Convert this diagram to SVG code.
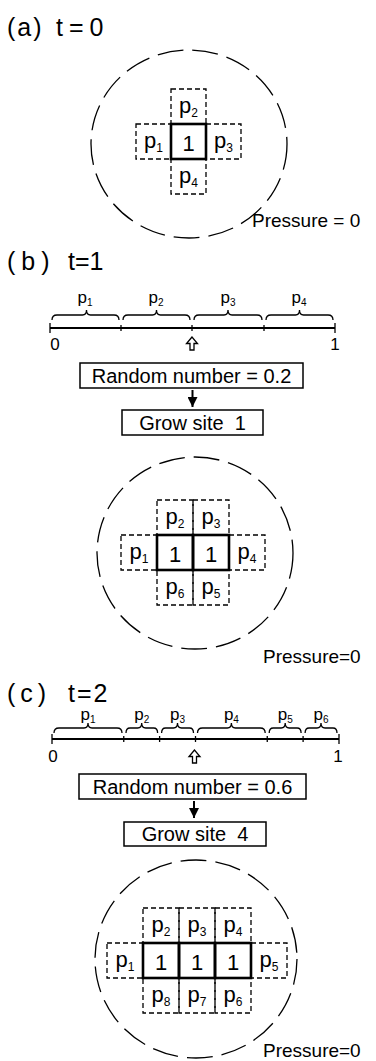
<svg xmlns="http://www.w3.org/2000/svg" width="376" height="1061" viewBox="0 0 376 1061">
<style>
text{font-family:"Liberation Sans",Arial,sans-serif;fill:#000}
.title{font-size:25px}
.lbl{font-size:22px;text-anchor:middle}
.num{font-size:22px;text-anchor:middle}
.sub{font-size:12px}
.nl{font-size:17px;text-anchor:middle}
.nsub{font-size:10px}
.press{font-size:19px}
.btxt{font-size:20px;text-anchor:middle}
.cell{fill:none;stroke:#000;stroke-width:1.3;stroke-dasharray:5 3}
.site{fill:none;stroke:#000;stroke-width:2.6}
.bound{fill:none;stroke:#000;stroke-width:1.3;stroke-dasharray:26 9}
.box{fill:#fff;stroke:#000;stroke-width:1.5}
.axis{stroke:#000;stroke-width:2;fill:none}
.tick{stroke:#000;stroke-width:1.3}
.brace{fill:none;stroke:#000;stroke-width:1.3}
.conn{stroke:#000;stroke-width:2;fill:none}
</style>
<defs>
<marker id="ah" viewBox="0 0 10 10" refX="10" refY="5" markerWidth="10" markerHeight="10" markerUnits="userSpaceOnUse" orient="auto"><path d="M0,0 L10,5 L0,10 z" fill="#000"/></marker>
</defs>

<!-- Panel (a) -->
<g id="panel-a">
<text class="title" y="36"><tspan x="7" letter-spacing="2">(a)</tspan><tspan x="56" letter-spacing="6">t=0</tspan></text>
<ellipse id="boundary-a" class="bound" cx="189" cy="144" rx="98" ry="94"/>
<g id="a-p2"><rect class="cell" x="171" y="89" width="35" height="35"/><text class="lbl" x="188.5" y="112.5">p<tspan class="sub" dy="4">2</tspan></text></g>
<g id="a-p1"><rect class="cell" x="136" y="124" width="35" height="35"/><text class="lbl" x="153.5" y="147.5">p<tspan class="sub" dy="4">1</tspan></text></g>
<g id="a-p3"><rect class="cell" x="206" y="124" width="35" height="35"/><text class="lbl" x="223.5" y="147.5">p<tspan class="sub" dy="4">3</tspan></text></g>
<g id="a-p4"><rect class="cell" x="171" y="159" width="35" height="35"/><text class="lbl" x="188.5" y="182.5">p<tspan class="sub" dy="4">4</tspan></text></g>
<g id="a-site1"><rect class="site" x="171" y="124" width="35" height="35"/><text class="num" x="188.5" y="150.5">1</text></g>
<text id="a-pressure" class="press" x="252" y="227">Pressure = 0</text>
</g>

<!-- Panel (b) -->
<g id="panel-b">
<text class="title" y="270"><tspan x="7" letter-spacing="6">(b)</tspan><tspan x="68" letter-spacing="0">t=1</tspan></text>
<g id="b-line">
<line class="axis" x1="50" y1="328" x2="335" y2="328"/>
<line class="tick" x1="50" y1="323" x2="50" y2="333"/>
<line class="tick" x1="121" y1="325" x2="121" y2="331"/>
<line class="tick" x1="192" y1="325" x2="192" y2="331"/>
<line class="tick" x1="264" y1="325" x2="264" y2="331"/>
<line class="tick" x1="335" y1="323" x2="335" y2="333"/>
<path class="brace" d="M52,320 Q52,315 57,315 L82.5,315 Q86.5,315 86.5,310 Q86.5,315 90.5,315 L114,315 Q119,315 119,320"/>
<path class="brace" d="M123,320 Q123,315 128,315 L152.5,315 Q156.5,315 156.5,310 Q156.5,315 160.5,315 L185,315 Q190,315 190,320"/>
<path class="brace" d="M194,320 Q194,315 199,315 L224,315 Q228,315 228,310 Q228,315 232,315 L257,315 Q262,315 262,320"/>
<path class="brace" d="M266,320 Q266,315 271,315 L295.5,315 Q299.5,315 299.5,310 Q299.5,315 303.5,315 L328,315 Q333,315 333,320"/>
<text class="nl" x="85" y="303">p<tspan class="nsub" dy="3">1</tspan></text>
<text class="nl" x="156" y="303">p<tspan class="nsub" dy="3">2</tspan></text>
<text class="nl" x="228" y="303">p<tspan class="nsub" dy="3">3</tspan></text>
<text class="nl" x="299" y="303">p<tspan class="nsub" dy="3">4</tspan></text>
<text class="nl" x="55" y="350">0</text>
<text class="nl" x="335" y="350">1</text>
</g>
<g id="b-random"><rect class="box" x="80" y="363" width="223" height="25"/><text class="btxt" x="191.5" y="383">Random number = 0.2</text></g>
<g id="b-grow"><rect class="box" x="122" y="410" width="141" height="25"/><text class="btxt" x="192.5" y="430">Grow site&#160; 1</text></g>
<ellipse id="boundary-b" class="bound" cx="195" cy="553" rx="98" ry="96"/>
<g id="b-p2"><rect class="cell" x="157" y="500" width="36" height="35"/><text class="lbl" x="175" y="523.5">p<tspan class="sub" dy="4">2</tspan></text></g>
<g id="b-p3"><rect class="cell" x="193" y="500" width="36" height="35"/><text class="lbl" x="211" y="523.5">p<tspan class="sub" dy="4">3</tspan></text></g>
<g id="b-p1"><rect class="cell" x="121" y="535" width="36" height="35"/><text class="lbl" x="139" y="558.5">p<tspan class="sub" dy="4">1</tspan></text></g>
<g id="b-p4"><rect class="cell" x="229" y="535" width="36" height="35"/><text class="lbl" x="247" y="558.5">p<tspan class="sub" dy="4">4</tspan></text></g>
<g id="b-p6"><rect class="cell" x="157" y="570" width="36" height="35"/><text class="lbl" x="175" y="593.5">p<tspan class="sub" dy="4">6</tspan></text></g>
<g id="b-p5"><rect class="cell" x="193" y="570" width="36" height="35"/><text class="lbl" x="211" y="593.5">p<tspan class="sub" dy="4">5</tspan></text></g>
<g id="b-site1"><rect class="site" x="157" y="535" width="36" height="35"/><text class="num" x="175" y="561.5">1</text></g>
<g id="b-site2"><rect class="site" x="193" y="535" width="36" height="35"/><text class="num" x="211" y="561.5">1</text></g>
<text id="b-pressure" class="press" x="263" y="663">Pressure=0</text>
</g>

<!-- Panel (c) -->
<g id="panel-c">
<text class="title" y="702"><tspan x="7" letter-spacing="5">(c)</tspan><tspan x="68" letter-spacing="2">t=2</tspan></text>
<g id="c-line">
<line class="axis" x1="52" y1="739" x2="339" y2="739"/>
<line class="tick" x1="52" y1="734" x2="52" y2="744"/>
<line class="tick" x1="123.75" y1="736" x2="123.75" y2="742"/>
<line class="tick" x1="159.6" y1="736" x2="159.6" y2="742"/>
<line class="tick" x1="195.5" y1="736" x2="195.5" y2="742"/>
<line class="tick" x1="267.25" y1="736" x2="267.25" y2="742"/>
<line class="tick" x1="303.1" y1="736" x2="303.1" y2="742"/>
<line class="tick" x1="339" y1="734" x2="339" y2="744"/>
<path class="brace" d="M54,733 Q54,728 59,728 L84,728 Q88,728 88,723 Q88,728 92,728 L117,728 Q122,728 122,733"/>
<path class="brace" d="M126,733 Q126,728 130,728 L137.7,728 Q141.7,728 141.7,723 Q141.7,728 145.7,728 L153.6,728 Q157.6,728 157.6,733"/>
<path class="brace" d="M161.6,733 Q161.6,728 165.6,728 L173.5,728 Q177.5,728 177.5,723 Q177.5,728 181.5,728 L189.5,728 Q193.5,728 193.5,733"/>
<path class="brace" d="M197.5,733 Q197.5,728 202.5,728 L227.4,728 Q231.4,728 231.4,723 Q231.4,728 235.4,728 L260.2,728 Q265.2,728 265.2,733"/>
<path class="brace" d="M269.2,733 Q269.2,728 273.2,728 L281.2,728 Q285.2,728 285.2,723 Q285.2,728 289.2,728 L297.1,728 Q301.1,728 301.1,733"/>
<path class="brace" d="M305.1,733 Q305.1,728 309.1,728 L317,728 Q321,728 321,723 Q321,728 325,728 L333,728 Q337,728 337,733"/>
<text class="nl" x="88" y="720">p<tspan class="nsub" dy="3">1</tspan></text>
<text class="nl" x="141.7" y="720">p<tspan class="nsub" dy="3">2</tspan></text>
<text class="nl" x="177.5" y="720">p<tspan class="nsub" dy="3">3</tspan></text>
<text class="nl" x="231.4" y="720">p<tspan class="nsub" dy="3">4</tspan></text>
<text class="nl" x="285.2" y="720">p<tspan class="nsub" dy="3">5</tspan></text>
<text class="nl" x="321" y="720">p<tspan class="nsub" dy="3">6</tspan></text>
<text class="nl" x="53" y="762">0</text>
<text class="nl" x="338" y="762">1</text>
</g>
<g id="c-random"><rect class="box" x="79" y="774" width="227" height="25"/><text class="btxt" x="192.5" y="794">Random number = 0.6</text></g>
<g id="c-grow"><rect class="box" x="124" y="822" width="142" height="24"/><text class="btxt" x="195" y="841">Grow site&#160; 4</text></g>
<ellipse id="boundary-c" class="bound" cx="196" cy="959" rx="101" ry="99"/>
<g id="c-p2"><rect class="cell" x="143" y="908" width="36" height="35"/><text class="lbl" x="161" y="931.5">p<tspan class="sub" dy="4">2</tspan></text></g>
<g id="c-p3"><rect class="cell" x="179" y="908" width="36" height="35"/><text class="lbl" x="197" y="931.5">p<tspan class="sub" dy="4">3</tspan></text></g>
<g id="c-p4"><rect class="cell" x="215" y="908" width="36" height="35"/><text class="lbl" x="233" y="931.5">p<tspan class="sub" dy="4">4</tspan></text></g>
<g id="c-p1"><rect class="cell" x="107" y="943" width="36" height="35"/><text class="lbl" x="125" y="966.5">p<tspan class="sub" dy="4">1</tspan></text></g>
<g id="c-p5"><rect class="cell" x="251" y="943" width="36" height="35"/><text class="lbl" x="269" y="966.5">p<tspan class="sub" dy="4">5</tspan></text></g>
<g id="c-p8"><rect class="cell" x="143" y="978" width="36" height="35"/><text class="lbl" x="161" y="1001.5">p<tspan class="sub" dy="4">8</tspan></text></g>
<g id="c-p7"><rect class="cell" x="179" y="978" width="36" height="35"/><text class="lbl" x="197" y="1001.5">p<tspan class="sub" dy="4">7</tspan></text></g>
<g id="c-p6"><rect class="cell" x="215" y="978" width="36" height="35"/><text class="lbl" x="233" y="1001.5">p<tspan class="sub" dy="4">6</tspan></text></g>
<g id="c-site1"><rect class="site" x="143" y="943" width="36" height="35"/><text class="num" x="161" y="969.5">1</text></g>
<g id="c-site2"><rect class="site" x="179" y="943" width="36" height="35"/><text class="num" x="197" y="969.5">1</text></g>
<g id="c-site3"><rect class="site" x="215" y="943" width="36" height="35"/><text class="num" x="233" y="969.5">1</text></g>
<text id="c-pressure" class="press" x="263" y="1057">Pressure=0</text>
</g>

<!-- Connectors -->
<g id="connectors">
<path d="M192,337 L186.5,343.5 L190,343.5 L190,350 L194,350 L194,343.5 L197.5,343.5 Z" fill="#fff" stroke="#000" stroke-width="1.3"/>
<line class="conn" x1="192.5" y1="390" x2="192.5" y2="407" marker-end="url(#ah)"/>
<path d="M194.5,750 L189,756.5 L192.5,756.5 L192.5,763 L196.5,763 L196.5,756.5 L200,756.5 Z" fill="#fff" stroke="#000" stroke-width="1.3"/>
<line class="conn" x1="194" y1="801" x2="194" y2="818" marker-end="url(#ah)"/>
</g>
</svg>
